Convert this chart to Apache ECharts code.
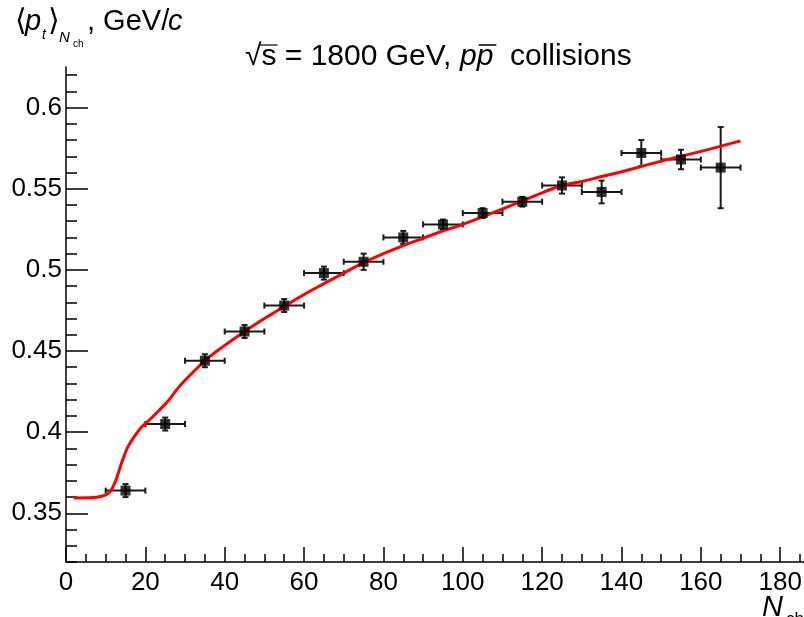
<!DOCTYPE html>
<html>
<head>
<meta charset="utf-8">
<script src="https://cdn.jsdelivr.net/npm/echarts@6/dist/echarts.min.js"></script>
<style>
html,body{margin:0;padding:0;background:#fff;}
#chart{width:804px;height:617px;}
</style>
</head>
<body>
<div id="chart"></div>
<script>
// ---- data ----
const nchCenters = [15, 25, 35, 45, 55, 65, 75, 85, 95, 105, 115, 125, 135, 145, 155, 165];
const meanPt     = [0.364, 0.405, 0.444, 0.462, 0.478, 0.498, 0.505, 0.520, 0.528, 0.535, 0.542, 0.552, 0.548, 0.572, 0.568, 0.563];
const nchErrors  = [5, 5, 5, 5, 5, 5, 5, 5, 5, 5, 5, 5, 5, 5, 5, 5];
const ptErrors   = [0.004, 0.004, 0.004, 0.004, 0.004, 0.004, 0.005, 0.004, 0.003, 0.003, 0.003, 0.005, 0.007, 0.008, 0.006, 0.025];

const curveX = [2, 6, 9, 11, 12.5, 14, 15.5, 17, 19, 21, 23.5, 26, 28, 30, 35, 40, 45, 50, 55, 60, 65, 70, 75, 80, 85, 90, 95, 100, 110, 115, 120, 125, 130, 135, 140, 150, 160, 170];
const curveY = [0.3595, 0.3596, 0.3605, 0.363, 0.370, 0.381, 0.3905, 0.3965, 0.403, 0.4075, 0.4135, 0.420, 0.4265, 0.432, 0.444, 0.4535, 0.462, 0.470, 0.4775, 0.4848, 0.4915, 0.498, 0.5045, 0.510, 0.515, 0.5195, 0.524, 0.528, 0.5375, 0.5425, 0.5475, 0.552, 0.5545, 0.5575, 0.5605, 0.567, 0.573, 0.5795];

const xMajorTicks = [0, 20, 40, 60, 80, 100, 120, 140, 160, 180];
const xMinorTicks = [5, 10, 15, 25, 30, 35, 45, 50, 55, 65, 70, 75, 85, 90, 95, 105, 110, 115, 125, 130, 135, 145, 150, 155, 165, 170, 175, 185];
const yMajorTicks = [0.35, 0.4, 0.45, 0.5, 0.55, 0.6];
const yMinorTicks = [0.32, 0.33, 0.34, 0.36, 0.37, 0.38, 0.39, 0.41, 0.42, 0.43, 0.44, 0.46, 0.47, 0.48, 0.49, 0.51, 0.52, 0.53, 0.54, 0.56, 0.57, 0.58, 0.59, 0.61, 0.62];
const xRange = [0, 186];
const yRange = [0.32, 0.625];

// ---- build ----
const FONT = "'Liberation Sans', 'DejaVu Sans', sans-serif";
const pointData = nchCenters.map((x, i) => [x, meanPt[i], nchErrors[i], ptErrors[i]]);
const curveData = curveX.map((x, i) => [x, curveY[i]]);

// text measuring helper (for title layout only)
const mctx = document.createElement('canvas').getContext('2d');
function tw(text, font) { mctx.font = font; return mctx.measureText(text).width; }

const TF = '30px ' + FONT, TFI = 'italic 30px ' + FONT;
const t1x = 245, ppx = 460, colx = 510;
const rootW = tw('√', TF), sW = tw('s', TF), pW = tw('p', TFI);

const chart = echarts.init(document.getElementById('chart'), null, {renderer: 'canvas'});

const axisCommon = {
  type: 'value',
  splitLine: {show: false},
  axisLine: {onZero: false}
};
const AX = {color: '#000', width: 1.5};

const option = {
  backgroundColor: '#ffffff',
  animation: false,
  grid: {left: 66, right: 0, top: 67, bottom: 55, containLabel: false, outerBoundsMode: 'none'},
  xAxis: [
    Object.assign({}, axisCommon, {
      position: 'bottom', min: xRange[0], max: xRange[1],
      axisLine: {show: true, onZero: false, lineStyle: AX},
      axisTick: {show: true, inside: true, length: 15, customValues: xMajorTicks, lineStyle: AX},
      axisLabel: {show: true, customValues: xMajorTicks, margin: 8, color: '#000', fontSize: 26, fontFamily: FONT}
    }),
    Object.assign({}, axisCommon, {
      position: 'bottom', min: xRange[0], max: xRange[1],
      axisLine: {show: false, onZero: false},
      axisTick: {show: true, inside: true, length: 8, customValues: xMinorTicks, lineStyle: AX},
      axisLabel: {show: false}
    })
  ],
  yAxis: [
    Object.assign({}, axisCommon, {
      position: 'left', min: yRange[0], max: yRange[1],
      axisLine: {show: true, onZero: false, lineStyle: AX},
      axisTick: {show: true, inside: true, length: 22, customValues: yMajorTicks, lineStyle: AX},
      axisLabel: {show: true, customValues: yMajorTicks, margin: 4, color: '#000', fontSize: 26, fontFamily: FONT,
        formatter: v => String(+v.toFixed(3))}
    }),
    Object.assign({}, axisCommon, {
      position: 'left', min: yRange[0], max: yRange[1],
      axisLine: {show: false, onZero: false},
      axisTick: {show: true, inside: true, length: 11, customValues: yMinorTicks, lineStyle: AX},
      axisLabel: {show: false}
    })
  ],
  series: [
    {
      type: 'custom',
      xAxisIndex: 0, yAxisIndex: 0,
      data: pointData,
      z: 3,
      renderItem: function (params, api) {
        const x = api.value(0), y = api.value(1), ex = api.value(2), ey = api.value(3);
        const c = api.coord([x, y]);
        const l = api.coord([x - ex, y]);
        const r = api.coord([x + ex, y]);
        const t = api.coord([x, y + ey]);
        const b = api.coord([x, y - ey]);
        const cap = 3;
        const style = {stroke: '#1a1a1a', lineWidth: 2};
        return {
          type: 'group',
          children: [
            {type: 'line', shape: {x1: l[0], y1: c[1], x2: r[0], y2: c[1]}, style: style},
            {type: 'line', shape: {x1: l[0], y1: c[1] - cap, x2: l[0], y2: c[1] + cap}, style: style},
            {type: 'line', shape: {x1: r[0], y1: c[1] - cap, x2: r[0], y2: c[1] + cap}, style: style},
            {type: 'line', shape: {x1: c[0], y1: t[1], x2: c[0], y2: b[1]}, style: style},
            {type: 'line', shape: {x1: c[0] - cap, y1: t[1], x2: c[0] + cap, y2: t[1]}, style: style},
            {type: 'line', shape: {x1: c[0] - cap, y1: b[1], x2: c[0] + cap, y2: b[1]}, style: style}
          ]
        };
      }
    },
    {
      type: 'line',
      xAxisIndex: 0, yAxisIndex: 0,
      data: curveData,
      smooth: 0.4,
      showSymbol: false,
      z: 4,
      lineStyle: {color: '#ff0000', width: 3}
    },
    {
      type: 'scatter',
      xAxisIndex: 0, yAxisIndex: 0,
      data: pointData.map(d => [d[0], d[1]]),
      symbol: 'rect',
      symbolSize: 10,
      z: 5,
      itemStyle: {color: '#000'}
    }
  ],
  graphic: [
    // title
    {type: 'text', x: t1x, y: 56.5, style: {text: '√s = 1800 GeV,', font: TF, fill: '#000', textAlign: 'left', textVerticalAlign: 'middle'}},
    {type: 'line', shape: {x1: t1x + rootW - 2, y1: 45, x2: t1x + rootW + sW + 1, y2: 45}, style: {stroke: '#000', lineWidth: 1.2}},
    {type: 'text', x: ppx, y: 56.5, style: {text: 'pp', font: TFI, fill: '#000', textAlign: 'left', textVerticalAlign: 'middle'}},
    {type: 'line', shape: {x1: ppx + pW + 2, y1: 45, x2: ppx + 2 * pW + 3, y2: 45}, style: {stroke: '#000', lineWidth: 1.5}},
    {type: 'text', x: colx, y: 56.5, style: {text: 'collisions', font: TF, fill: '#000', textAlign: 'left', textVerticalAlign: 'middle'}},
    // y-axis title
    {type: 'text', x: 15, y: 22, style: {text: '⟨', font: '30px ' + FONT, fill: '#000', textAlign: 'left', textVerticalAlign: 'middle'}},
    {type: 'text', x: 25, y: 22, style: {text: 'p', font: 'italic 29px ' + FONT, fill: '#000', textAlign: 'left', textVerticalAlign: 'middle'}},
    {type: 'text', x: 42, y: 35, style: {text: 't', font: 'italic 14px ' + FONT, fill: '#000', textAlign: 'left', textVerticalAlign: 'middle'}},
    {type: 'text', x: 48, y: 22, style: {text: '⟩', font: '30px ' + FONT, fill: '#000', textAlign: 'left', textVerticalAlign: 'middle'}},
    {type: 'text', x: 59, y: 38, style: {text: 'N', font: 'italic 15px ' + FONT, fill: '#000', textAlign: 'left', textVerticalAlign: 'middle'}},
    {type: 'text', x: 73, y: 44, style: {text: 'ch', font: '10px ' + FONT, fill: '#000', textAlign: 'left', textVerticalAlign: 'middle'}},
    {type: 'text', x: 87, y: 22, style: {text: ', GeV/', font: '29px ' + FONT, fill: '#000', textAlign: 'left', textVerticalAlign: 'middle'}},
    {type: 'text', x: 168, y: 22, style: {text: 'c', font: 'italic 29px ' + FONT, fill: '#000', textAlign: 'left', textVerticalAlign: 'middle'}},
    // x-axis title
    {type: 'text', x: 762, y: 608, style: {text: 'N', font: 'italic 29px ' + FONT, fill: '#000', textAlign: 'left', textVerticalAlign: 'middle'}},
    {type: 'text', x: 786, y: 619, style: {text: 'ch', font: '17px ' + FONT, fill: '#000', textAlign: 'left', textVerticalAlign: 'middle'}}
  ]
};

chart.setOption(option);
</script>
</body>
</html>
